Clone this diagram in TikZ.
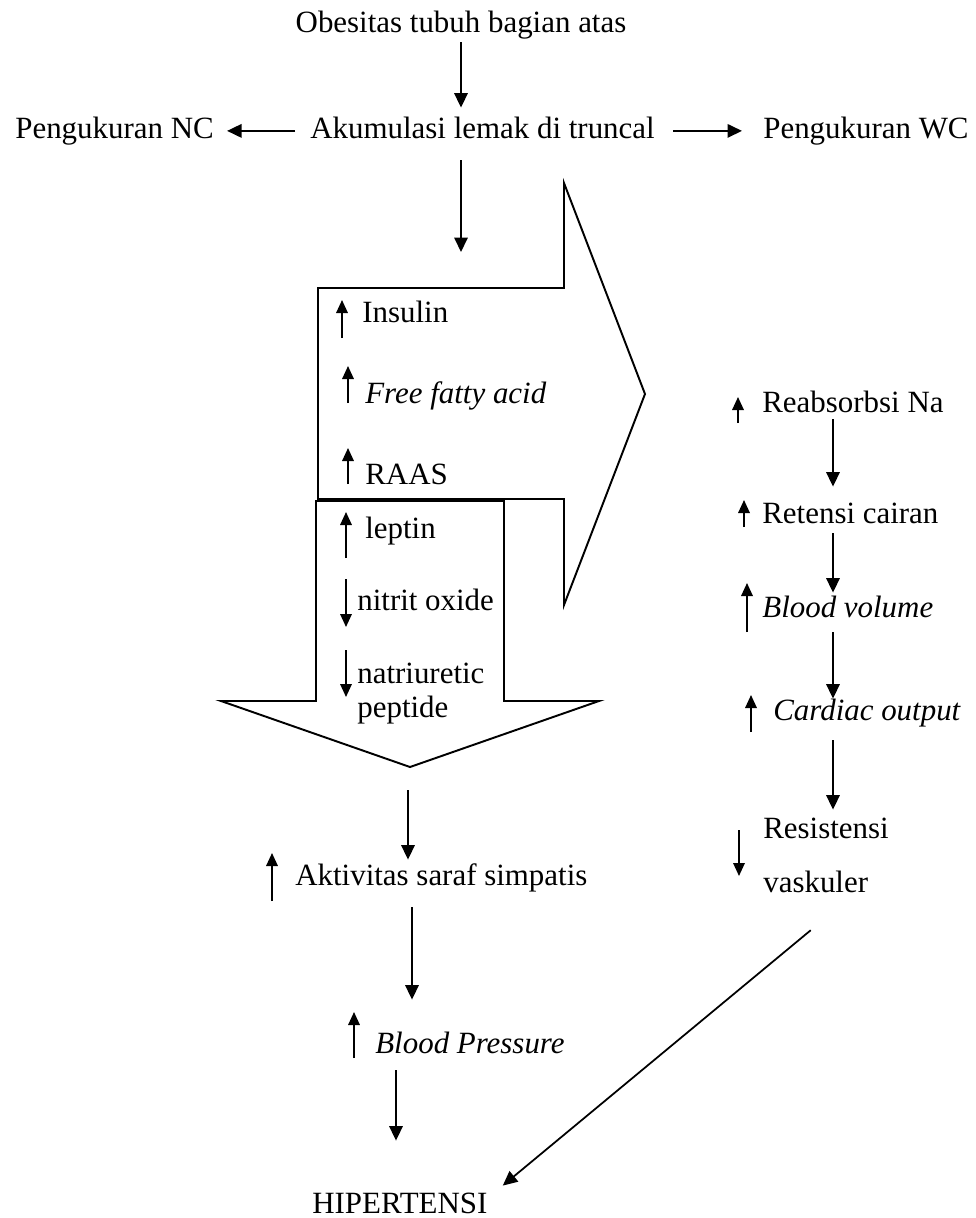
\documentclass[tikz,border=0pt]{standalone}
\usepackage{fontspec}
\setmainfont{Liberation Serif}
\usetikzlibrary{arrows.meta, calc, positioning}
\newcommand{\diagfont}{\fontsize{17.6pt}{21pt}\selectfont}
\tikzset{
  txt/.style ={font=\diagfont, inner sep=0pt, text height=12pt, text depth=3.9pt,
               anchor=base west},
  txtI/.style={txt, font=\diagfont\itshape},
  flow/.style={-{Triangle[length=0.29cm, width=0.27cm]}, line width=1pt},
  ind/.style ={-{Triangle[length=0.26cm, width=0.23cm]}, line width=1pt},
  bigarr/.style={draw, line width=1.1pt, line join=miter, fill=white},
}

\begin{document}
\begin{tikzpicture}[x=0.02cm, y=-0.02cm]
\useasboundingbox (0,0) rectangle (976,1218);

%% ============================================================
%% TOP  -- obesity and trunk fat
%% ============================================================
\node[txt, anchor=base] (obes) at (461,32) {Obesitas tubuh bagian atas};
\node[txt] (akum) at (310,138) {Akumulasi lemak di truncal};
\node[txt] (nc)   at (15,138)  {Pengukuran NC};
\node[txt] (wc)   at (763,138) {Pengukuran WC};

\draw[flow, shorten <=0.06cm, shorten >=0.18cm] (obes.south) -- (akum.north -| obes.south);
\draw[flow, shorten <=0.30cm, shorten >=0.26cm] (akum.west) -- (nc.east);
\draw[flow, shorten <=0.36cm, shorten >=0.42cm] (akum.east) -- (wc.west);

%% ============================================================
%% BIG ARROWS  (right: kidney branch, down: nervous branch)
%% ============================================================
\draw[bigarr] (318,288) -- (564,288) -- (564,183) -- (645,394)
  -- (564,605) -- (564,499) -- (318,499) -- cycle;
\draw[bigarr] (316,501) -- (504,501) -- (504,701) -- (599,701)
  -- (410,767) -- (221,701) -- (316,701) -- cycle;
\coordinate (bigIn) at (461,252);
\coordinate (dnTip) at (408,767);

\draw[flow, shorten <=0.30cm] (akum.south -| bigIn) -- (bigIn);

% inside the right arrow
\node[txt]  (insulin) at (362,322) {Insulin};
\node[txtI] (ffa)     at (365,403) {Free fatty acid};
\node[txt]  (raas)    at (365,484) {RAAS};
\draw[ind] ([shift={(-20,16)}]insulin.base west) -- ++(0,-38);
\draw[ind] ([shift={(-17,0)}]ffa.base west) -- ++(0,-37);
\draw[ind] ([shift={(-17,0)}]raas.base west) -- ++(0,-36);

% inside the down arrow
\node[txt] (leptin) at (365,538) {leptin};
\node[txt] (nitrit) at (357,610) {nitrit oxide};
\node[txt] (natri)  at (357,683) {natriuretic};
\node[txt] (pept)   at (357,717) {peptide};
\draw[ind] ([shift={(-19,20)}]leptin.base west) -- ++(0,-46);
\draw[ind] ([shift={(-11,-31)}]nitrit.base west) -- ++(0,48);
\draw[ind] ([shift={(-11,-33)}]natri.base west) -- ++(0,47);

%% ============================================================
%% RIGHT COLUMN  -- renal chain
%% ============================================================
\coordinate (colR) at (833,0);
\node[txt]  (reab) at (762,412) {Reabsorbsi Na};
\node[txt]  (ret)  at (762,523) {Retensi cairan};
\node[txtI] (bv)   at (762,617) {Blood volume};
\node[txtI] (co)   at (773,720) {Cardiac output};
\node[txt]  (res)  at (763,838) {Resistensi};
\node[txt]  (vask) at (763,892) {vaskuler};

\draw[ind] ([shift={(-24,11)}]reab.base west) -- ++(0,-26);
\draw[ind] ([shift={(-18,4)}]ret.base west) -- ++(0,-27);
\draw[ind] ([shift={(-15,15)}]bv.base west) -- ++(0,-49);
\draw[ind] ([shift={(-22,12)}]co.base west) -- ++(0,-37);
\draw[ind] ([shift={(-24,-8)}]res.base west) -- ++(0,46);

\draw[flow, shorten >=0.30cm] (reab.south -| colR) -- (ret.north -| colR);
\draw[flow, shorten <=0.06cm, shorten >=0.06cm] (ret.south -| colR) -- (bv.north -| colR);
\draw[flow, shorten <=0.16cm] (bv.south -| colR) -- (co.north -| colR);
\draw[flow, shorten <=0.26cm, shorten >=0.14cm] (co.south -| colR) -- (res.north -| colR);

%% ============================================================
%% CENTRE COLUMN  -- sympathetic chain
%% ============================================================
\coordinate (colM) at (412,0);
\coordinate (colB) at (396,0);
\node[txt]  (akt) at (295,885)  {Aktivitas saraf simpatis};
\node[txtI] (bp)  at (375,1053) {Blood Pressure};
\node[txt]  (hip) at (312,1213) {HIPERTENSI};

\draw[ind] ([shift={(-23,16)}]akt.base west) -- ++(0,-48);
\draw[ind] ([shift={(-21,5)}]bp.base west) -- ++(0,-46);

\draw[flow, shorten <=0.46cm, shorten >=0.08cm] (dnTip) -- (dnTip |- akt.north);
\draw[flow, shorten <=0.30cm, shorten >=0.64cm] (akt.south -| colM) -- (bp.north -| colM);
\draw[flow, shorten <=0.20cm, shorten >=1.02cm] (bp.south -| colB) -- (hip.north -| colB);

% renal chain joins at the end
\draw[flow] ([shift={(-5,31)}]vask.south) -- ([shift={(15,-6)}]hip.north east);

\end{tikzpicture}
\end{document}
